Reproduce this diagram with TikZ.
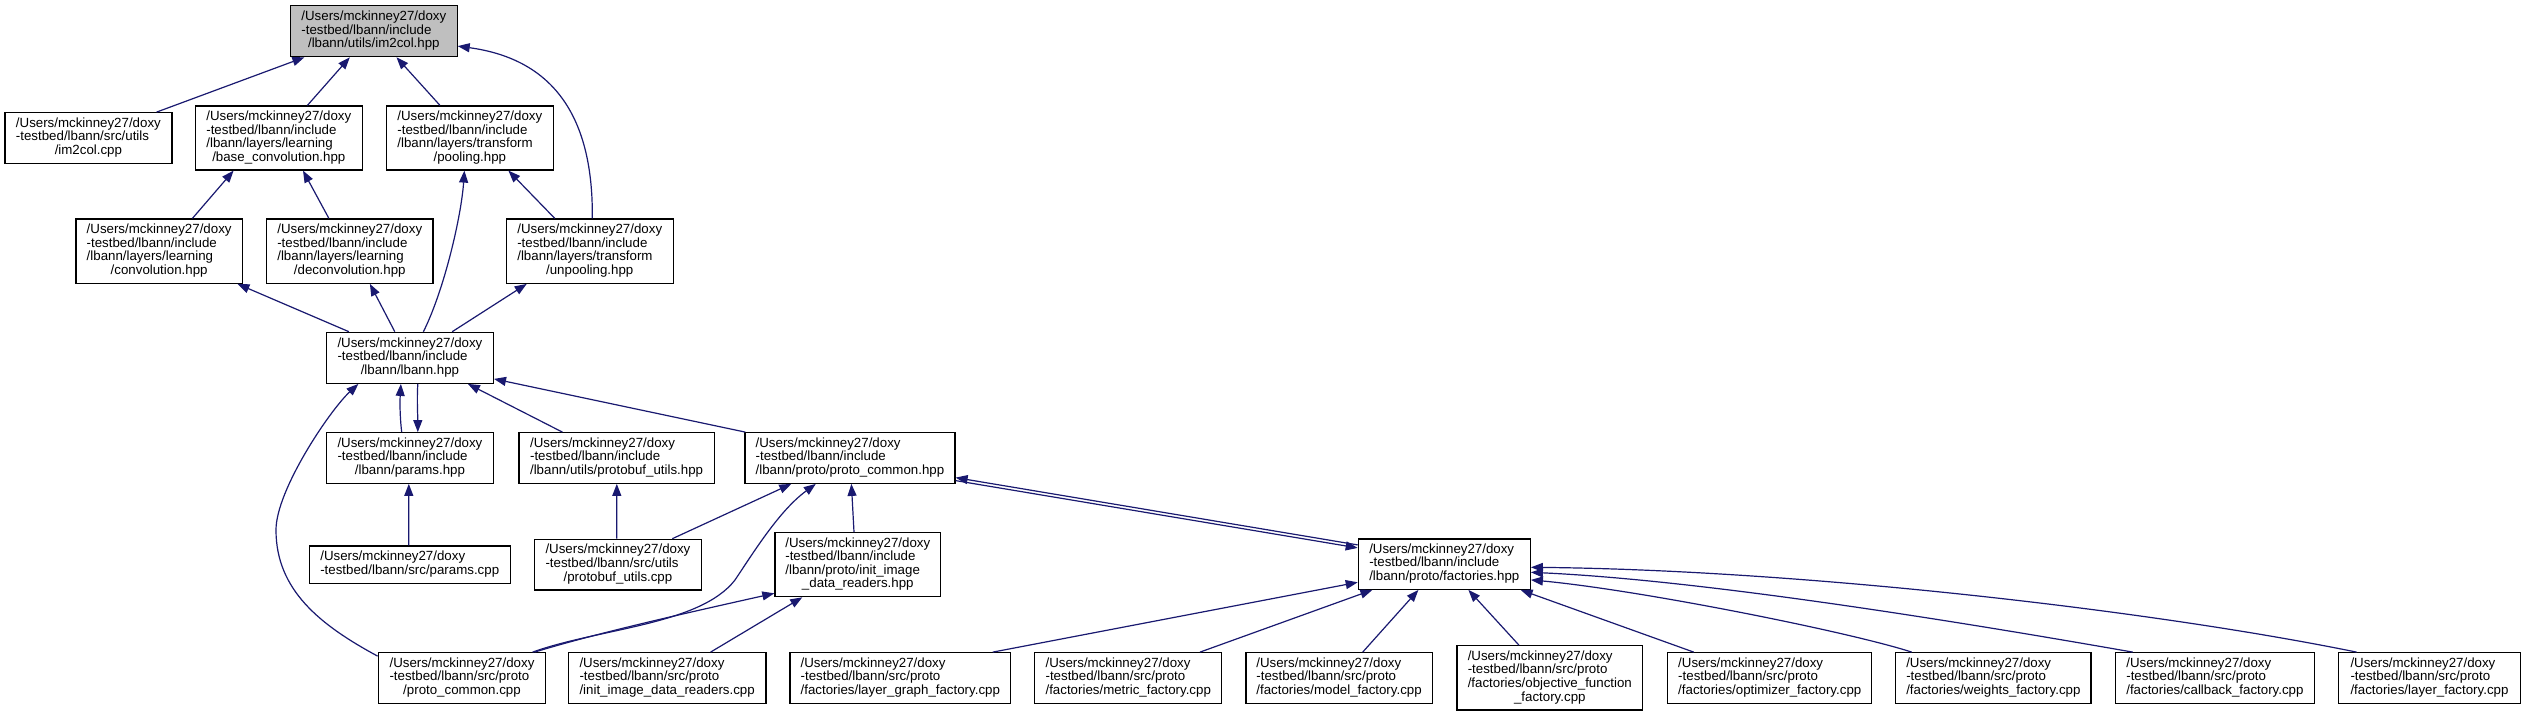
\documentclass[tikz,border=0pt]{standalone}
\usepackage{fontspec}
\setmainfont{Liberation Sans}
\usetikzlibrary{arrows.meta,calc}
\definecolor{edgeblue}{HTML}{191970}
\definecolor{rootgray}{HTML}{BFBFBF}
\newcommand\dxl[2]{\begin{tabular}{@{}l@{}}#1\\\multicolumn{1}{@{}c@{}}{#2}\end{tabular}}
\newcommand\mkbox[7][]{%
  \pgfmathsetmacro\mkbw{#5-#3}\pgfmathsetmacro\mkbh{#6-#4}%
  \pgfmathsetmacro\mkcx{(#3+#5)/2}\pgfmathsetmacro\mkcy{(#4+#6)/2}%
  \node[box,#1,minimum width=\mkbw pt,minimum height=\mkbh pt] (#2) at (\mkcx,\mkcy) {#7};}
\begin{document}
\begin{tikzpicture}[x=1pt,y=-1pt,
  box/.style={draw=black,line width=1.2pt,rectangle,inner sep=0pt,fill=white,
    font=\fontsize{13.3}{13.3}\selectfont},
  edge/.style={draw=edgeblue,line width=1.2pt,-{Triangle[length=12pt,width=9pt]}}]
\useasboundingbox[fill=white] (0,0) rectangle (2524,716);

\mkbox[fill=rootgray]{im2colhpp}{290.6}{5.7}{457.1}{56.7}{\dxl{/Users/mckinney27/doxy\\-testbed/lbann/include}{/lbann/utils/im2col.hpp}}
\mkbox{im2colcpp}{4.9}{112.7}{171.9}{163.3}{\dxl{/Users/mckinney27/doxy\\-testbed/lbann/src/utils}{/im2col.cpp}}
\mkbox{baseconv}{195.5}{106}{362.1}{170}{\dxl{/Users/mckinney27/doxy\\-testbed/lbann/include\\/lbann/layers/learning}{/base\_convolution.hpp}}
\mkbox{pooling}{386.6}{106}{553.1}{170}{\dxl{/Users/mckinney27/doxy\\-testbed/lbann/include\\/lbann/layers/transform}{/pooling.hpp}}
\mkbox{conv}{75.9}{219}{242.4}{283.3}{\dxl{/Users/mckinney27/doxy\\-testbed/lbann/include\\/lbann/layers/learning}{/convolution.hpp}}
\mkbox{deconv}{266.5}{219}{433}{283.3}{\dxl{/Users/mckinney27/doxy\\-testbed/lbann/include\\/lbann/layers/learning}{/deconvolution.hpp}}
\mkbox{unpool}{506.3}{219}{673.2}{283.3}{\dxl{/Users/mckinney27/doxy\\-testbed/lbann/include\\/lbann/layers/transform}{/unpooling.hpp}}
\mkbox{lbannhpp}{326.5}{332.3}{493.4}{383.3}{\dxl{/Users/mckinney27/doxy\\-testbed/lbann/include}{/lbann/lbann.hpp}}
\mkbox{paramshpp}{326.5}{432.7}{493.4}{483.3}{\dxl{/Users/mckinney27/doxy\\-testbed/lbann/include}{/lbann/params.hpp}}
\mkbox{pbuhpp}{519}{432.7}{714.2}{483.3}{\dxl{/Users/mckinney27/doxy\\-testbed/lbann/include}{/lbann/utils/protobuf\_utils.hpp}}
\mkbox{pchpp}{744.9}{432.7}{955}{483.3}{\dxl{/Users/mckinney27/doxy\\-testbed/lbann/include}{/lbann/proto/proto\_common.hpp}}
\mkbox{paramscpp}{309.3}{546}{510.2}{583.3}{\dxl{/Users/mckinney27/doxy}{-testbed/lbann/src/params.cpp}}
\mkbox{pbucpp}{534.3}{539.3}{701.6}{590}{\dxl{/Users/mckinney27/doxy\\-testbed/lbann/src/utils}{/protobuf\_utils.cpp}}
\mkbox{inithpp}{774.9}{532.7}{940.7}{596.7}{\dxl{/Users/mckinney27/doxy\\-testbed/lbann/include\\/lbann/proto/init\_image}{\_data\_readers.hpp}}
\mkbox{pccpp}{378.2}{652.7}{545.8}{703.3}{\dxl{/Users/mckinney27/doxy\\-testbed/lbann/src/proto}{/proto\_common.cpp}}
\mkbox{initcpp}{568.4}{652.7}{765.9}{703.3}{\dxl{/Users/mckinney27/doxy\\-testbed/lbann/src/proto}{/init\_image\_data\_readers.cpp}}
\mkbox{lgf}{790}{652.7}{1010.6}{703.3}{\dxl{/Users/mckinney27/doxy\\-testbed/lbann/src/proto}{/factories/layer\_graph\_factory.cpp}}
\mkbox{mf}{1034.8}{652.7}{1221.7}{703.3}{\dxl{/Users/mckinney27/doxy\\-testbed/lbann/src/proto}{/factories/metric\_factory.cpp}}
\mkbox{modf}{1246}{652.7}{1432.1}{703.3}{\dxl{/Users/mckinney27/doxy\\-testbed/lbann/src/proto}{/factories/model\_factory.cpp}}
\mkbox{objf}{1457}{645.7}{1642.6}{710}{\dxl{/Users/mckinney27/doxy\\-testbed/lbann/src/proto\\/factories/objective\_function}{\_factory.cpp}}
\mkbox{optf}{1667.8}{652.7}{1871.7}{703.3}{\dxl{/Users/mckinney27/doxy\\-testbed/lbann/src/proto}{/factories/optimizer\_factory.cpp}}
\mkbox{wf}{1895.8}{652.7}{2090.9}{703.3}{\dxl{/Users/mckinney27/doxy\\-testbed/lbann/src/proto}{/factories/weights\_factory.cpp}}
\mkbox{cbf}{2115.6}{652.7}{2314.2}{703.3}{\dxl{/Users/mckinney27/doxy\\-testbed/lbann/src/proto}{/factories/callback\_factory.cpp}}
\mkbox{lf}{2338.4}{652.7}{2520.5}{703.3}{\dxl{/Users/mckinney27/doxy\\-testbed/lbann/src/proto}{/factories/layer\_factory.cpp}}
\mkbox{facthpp}{1358.3}{539}{1530.3}{589.3}{\dxl{/Users/mckinney27/doxy\\-testbed/lbann/include}{/lbann/proto/factories.hpp}}

% edges into im2col.hpp
\draw[edge] ($(im2colcpp.north west)+(152.3,0)$) -- ($(im2colhpp.south west)+(14.4,0)$);
\draw[edge] ($(baseconv.north west)+(112.5,0)$) -- ($(im2colhpp.south west)+(59.8,0)$);
\draw[edge] ($(pooling.north west)+(54,0)$) -- ($(im2colhpp.south west)+(106.5,0)$);
\draw[edge] ($(unpool.north west)+(86.6,0)$) .. controls ($(unpool.north west)+(87.7,-99)$) and ($(im2colhpp.north east)+(97.9,54.3)$) .. ($(im2colhpp.north east)+(0,41)$);
% layers
\draw[edge] ($(conv.north west)+(117.1,0)$) -- ($(baseconv.south west)+(38.7,0)$);
\draw[edge] ($(deconv.north west)+(63,0)$) -- ($(baseconv.south west)+(108.1,0)$);
\draw[edge] ($(unpool.north west)+(49.1,0)$) -- ($(pooling.south west)+(122.4,0)$);
% lbann.hpp up
\draw[edge] ($(lbannhpp.north west)+(23,0)$) -- ($(conv.south west)+(162.1,0)$);
\draw[edge] ($(lbannhpp.north west)+(68.9,0)$) -- ($(deconv.south west)+(104,0)$);
\draw[edge] ($(lbannhpp.north west)+(97.5,0)$) .. controls +(21,-42) and +(-3,45) .. ($(pooling.south west)+(78.4,0)$);
\draw[edge] ($(lbannhpp.north west)+(126.3,0)$) -- ($(unpool.south west)+(21,0)$);
% params
\draw[edge] ($(paramshpp.north west)+(75.8,0)$) .. controls +(-2,-17) and +(-1,17) .. ($(lbannhpp.south west)+(75,0)$);
\draw[edge] ($(lbannhpp.south west)+(91.9,0)$) .. controls +(-1,17) and +(0,-17) .. ($(paramshpp.north west)+(91.9,0)$);
\draw[edge] ($(pccpp.north west)+(0,4)$) .. controls (320,625) and (276,590) .. (276,530) .. controls (276,490) and (330,410) .. ($(lbannhpp.south west)+(32.5,0)$);
\draw[edge] ($(pbuhpp.north west)+(44,0)$) -- ($(lbannhpp.south west)+(142,0)$);
\draw[edge] ($(pchpp.north west)+(1,0)$) -- ($(lbannhpp.south east)+(0,-5)$);
\draw[edge] ($(paramscpp.north west)+(100.1,0)$) -- ($(paramshpp.south west)+(82.9,0)$);
\draw[edge] ($(pbucpp.north west)+(83.1,0)$) -- ($(pbuhpp.south west)+(98.4,0)$);
\draw[edge] ($(pbucpp.north west)+(138.6,0)$) -- ($(pchpp.south west)+(47,0)$);
\draw[edge] ($(pccpp.north west)+(155,0)$) .. controls (600,628) and (700,625) .. (735,580) .. controls (755,550) and (780,510) .. ($(pchpp.south west)+(71.5,0)$);
\draw[edge] ($(pccpp.north west)+(157,0)$) .. controls (600,632) and (700,610) .. ($(inithpp.south west)+(0,-4)$);
\draw[edge] ($(inithpp.north west)+(79.7,0)$) -- ($(pchpp.south west)+(107.1,0)$);
\draw[edge] ($(initcpp.north west)+(142.8,0)$) -- ($(inithpp.south west)+(28,0)$);
% proto_common.hpp <-> factories.hpp
\draw[edge] ($(facthpp.north west)+(0,6.5)$) -- ($(pchpp.south east)+(0,-6.3)$);
\draw[edge] ($(pchpp.south east)+(0,-3.3)$) -- ($(facthpp.north west)+(0,9.5)$);
% factories
\draw[edge] ($(lgf.north west)+(203.4,0)$) -- ($(facthpp.south west)+(0,-7.6)$);
\draw[edge] ($(mf.north west)+(165.8,0)$) -- ($(facthpp.south west)+(14.7,0)$);
\draw[edge] ($(modf.north west)+(117.3,0)$) -- ($(facthpp.south west)+(60.7,0)$);
\draw[edge] ($(objf.north west)+(62.5,0)$) -- ($(facthpp.south west)+(110.7,0)$);
\draw[edge] ($(optf.north west)+(26.5,0)$) -- ($(facthpp.south east)+(-10.3,0)$);
\draw[edge] ($(wf.north west)+(16.5,0)$) .. controls (1850,632) and (1640,590) .. ($(facthpp.south east)+(0,-10)$);
\draw[edge] ($(cbf.north west)+(17.7,0)$) .. controls (1950,620) and (1700,580) .. ($(facthpp.south east)+(0,-17.6)$);
\draw[edge] ($(lf.north west)+(18.8,0)$) .. controls (2150,610) and (1800,570) .. ($(facthpp.south east)+(0,-22.6)$);
\end{tikzpicture}
\end{document}
